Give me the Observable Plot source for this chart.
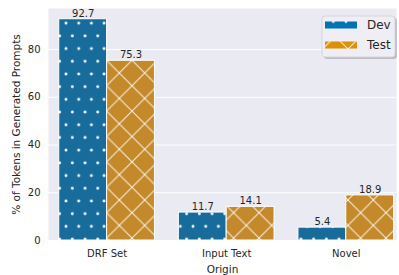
<!DOCTYPE html>
<html>
<head>
<meta charset="utf-8">
<script src="https://cdn.jsdelivr.net/npm/d3@7"></script>
<script src="https://cdn.jsdelivr.net/npm/@observablehq/plot@0.6"></script>
<style>
  html, body { margin: 0; padding: 0; background: white; }
</style>
</head>
<body>
<div id="chart"></div>
<script>
const origins = ["DRF Set", "Input Text", "Novel"];
const seriesNames = ["Dev", "Test"];
const devValues = [92.7, 11.7, 5.4];
const testValues = [75.3, 14.1, 18.9];
const yTicks = [0, 20, 40, 60, 80];
const xLabel = "Origin";
const yLabel = "% of Tokens in Generated Prompts";

const barColors = {Dev: "#186c9b", Test: "#c4892a"};
const legendColors = {Dev: "#0173b2", Test: "#de8f05"};
const patternIds = {Dev: "pat-dev", Test: "pat-test"};

const data = [];
origins.forEach((o, i) => {
  [devValues, testValues].forEach((vals, j) => {
    data.push({origin: o, index: i, slot: j, series: seriesNames[j], value: vals[i]});
  });
});
const barW = 0.4;
const x1 = d => d.index - barW + d.slot * barW;
const x2 = d => d.index + d.slot * barW;
const xc = d => d.index - barW / 2 + d.slot * barW;

const svg = Plot.plot({
  width: 399,
  height: 275,
  marginLeft: 48,
  marginRight: 3,
  marginTop: 8,
  marginBottom: 35,
  style: {fontFamily: "DejaVu Sans", fontSize: "10px", color: "#262626", background: "white"},
  x: {domain: [-0.49, 2.42]},
  y: {domain: [0, 97.2]},
  color: {type: "identity"},
  marks: [
    Plot.frame({fill: "#eaeaf2", stroke: "none"}),
    Plot.gridY(yTicks, {stroke: "white", strokeOpacity: 1, strokeWidth: 1}),
    Plot.rectY(data, {x1, x2, y: "value", fill: d => `url(#${patternIds[d.series]})`, stroke: "white", strokeWidth: 1}),
    Plot.text(data, {x: xc, y: "value", text: d => d.value.toFixed(1), dy: -2.5, lineAnchor: "bottom", fontSize: 10, fill: "#262626"}),
    Plot.axisY(yTicks, {tickSize: 0, tickPadding: 8, fontSize: 10, label: null}),
    Plot.axisY({label: yLabel, ticks: [], tickSize: 0, fontSize: 10.5, labelAnchor: "center", labelOffset: 36, labelArrow: "none"}),
    Plot.axisX([0, 1, 2], {tickSize: 0, tickPadding: 9, fontSize: 10, tickFormat: i => origins[i], label: null}),
    Plot.axisX({label: xLabel, ticks: [], tickSize: 0, fontSize: 10.5, labelAnchor: "center", labelOffset: 32, labelArrow: "none"})
  ]
});

const root = d3.select(svg);
const defs = root.insert("defs", ":first-child");

function dotPattern(id, color, ox, oy) {
  const p = defs.append("pattern").attr("id", id).attr("patternUnits", "userSpaceOnUse")
    .attr("x", ox).attr("y", oy).attr("width", 12.7).attr("height", 25.4);
  p.append("rect").attr("width", 12.7).attr("height", 25.4).attr("fill", color);
  [[0,0],[12.7,0],[0,25.4],[12.7,25.4],[6.35,12.7]].forEach(([cx, cy]) =>
    p.append("circle").attr("cx", cx).attr("cy", cy).attr("r", 1.45).attr("fill", "white"));
}
function crossPattern(id, color, ox, oy) {
  const s = 25.4;
  const p = defs.append("pattern").attr("id", id).attr("patternUnits", "userSpaceOnUse")
    .attr("x", ox).attr("y", oy).attr("width", s).attr("height", s);
  p.append("rect").attr("width", s).attr("height", s).attr("fill", color);
  for (let k = -1; k <= 1; k++) {
    p.append("line").attr("x1", -5).attr("y1", -5 + k * s).attr("x2", s + 5).attr("y2", s + 5 + k * s)
      .attr("stroke", "white").attr("stroke-opacity", 0.85).attr("stroke-width", 1);
  }
  for (let k = 0; k <= 2; k++) {
    p.append("line").attr("x1", -5).attr("y1", 5 + k * s).attr("x2", s + 5).attr("y2", -s - 5 + k * s)
      .attr("stroke", "white").attr("stroke-opacity", 0.85).attr("stroke-width", 1);
  }
}
dotPattern("pat-dev", barColors.Dev, 66, 74);
crossPattern("pat-test", barColors.Test, 373.3, 200);
dotPattern("pat-dev-leg", legendColors.Dev, 320.6, 21.5);
crossPattern("pat-test-leg", legendColors.Test, 348, 49);

// legend
const lg = root.append("g").attr("font-family", "DejaVu Sans").attr("text-anchor", "start");
lg.append("rect").attr("x", 324).attr("y", 18).attr("width", 73).attr("height", 41).attr("rx", 3)
  .attr("fill", "#9a9aa0").attr("fill-opacity", 0.55);
lg.append("rect").attr("x", 322).attr("y", 16).attr("width", 73).attr("height", 41).attr("rx", 3)
  .attr("fill", "#eeeef4").attr("stroke", "#cfcfd6").attr("stroke-width", 0.8);
seriesNames.forEach((s, i) => {
  const cy = 25 + i * 20;
  lg.append("rect").attr("x", 325).attr("y", cy - 3.5).attr("width", 32).attr("height", 7)
    .attr("fill", `url(#${s === "Dev" ? "pat-dev-leg" : "pat-test-leg"})`);
  lg.append("text").attr("x", 367).attr("y", cy).attr("dy", "0.35em").attr("font-size", 12)
    .attr("text-anchor", "start").attr("fill", "#262626").text(s);
});

document.getElementById("chart").appendChild(svg);
</script>
</body>
</html>
